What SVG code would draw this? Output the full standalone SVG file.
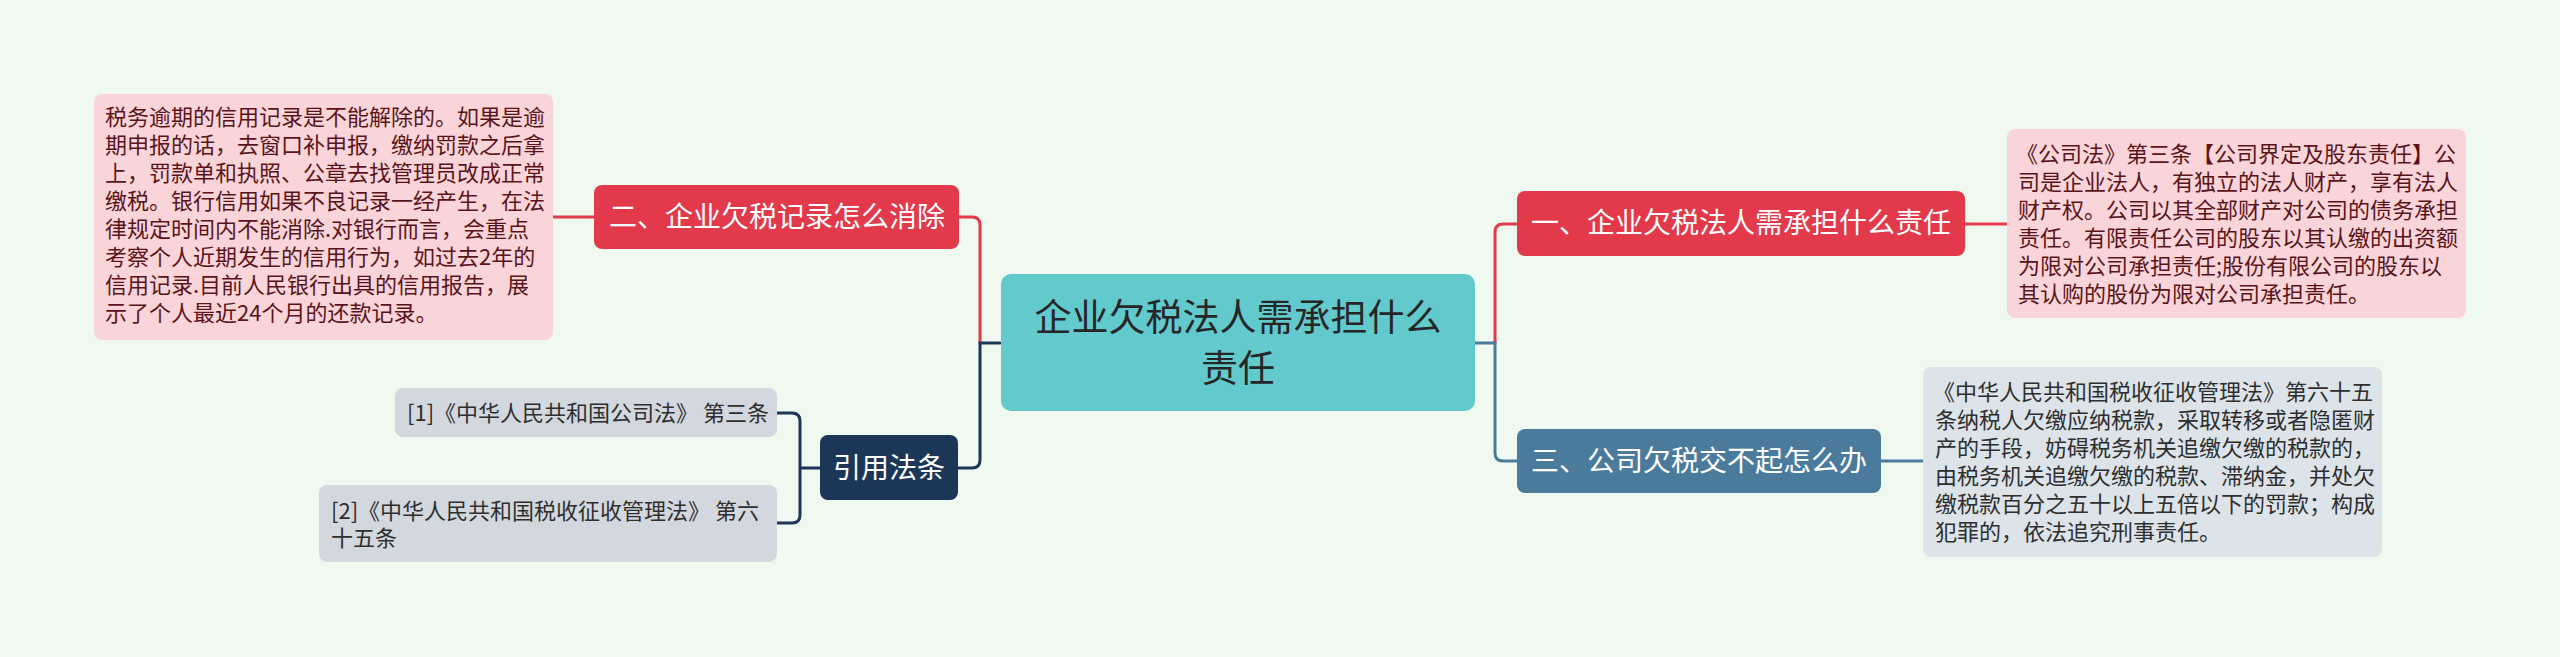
<svg xmlns="http://www.w3.org/2000/svg" width="2560" height="657" viewBox="0 0 2560 657">
<defs>
<style>
text{font-family:"Noto Sans CJK SC","Noto Sans",sans-serif;}
.c{fill:none;stroke-width:3;stroke-linecap:round;}
.red{stroke:#E23A4A;}
.navy{stroke:#1C3658;}
.blue{stroke:#4A7B9D;}
.tw{fill:#ffffff;font-size:28px;text-anchor:middle;}
.tp{fill:#5A1419;font-size:22px;}
.tg{fill:#2E2E2E;font-size:22px;}
</style>
</defs>
<rect x="0" y="0" width="2560" height="657" fill="#F0F9EF"/>
<g id="connectors">
<path class="c red" d="M980,343 V225 Q980,217 972,217 H959"/>
<path class="c navy" d="M1000,343 H980 V460 Q980,468 972,468 H958"/>
<path class="c red" d="M594,217 H553"/>
<path class="c navy" d="M820,468 H800 M800,468 V421 Q800,413 792,413 H777 M800,468 V515 Q800,523 792,523 H777"/>
<path class="c red" d="M1495,343 V232 Q1495,224 1503,224 H1517"/>
<path class="c blue" d="M1475,343 H1495 V453 Q1495,461 1503,461 H1517"/>
<path class="c red" d="M1965,224 H2007"/>
<path class="c blue" d="M1881,461 H1923"/>
</g>
<g id="center">
<rect x="1001" y="274" width="474" height="137" rx="10" fill="#62CACD"/>
<text x="1238" y="331" font-size="37" fill="#262626" text-anchor="middle">企业欠税法人需承担什么</text>
<text x="1238" y="382" font-size="37" fill="#262626" text-anchor="middle">责任</text>
</g>
<g id="n2">
<rect x="594" y="185" width="365" height="64" rx="8" fill="#E23A4A"/>
<text class="tw" x="777" y="227">二、企业欠税记录怎么消除</text>
</g>
<g id="n2-detail">
<rect x="94" y="94" width="459" height="246" rx="8" fill="#F9D5DA"/>
<text class="tp" x="105" y="125">税务逾期的信用记录是不能解除的。如果是逾</text>
<text class="tp" x="105" y="153">期申报的话，去窗口补申报，缴纳罚款之后拿</text>
<text class="tp" x="105" y="181">上，罚款单和执照、公章去找管理员改成正常</text>
<text class="tp" x="105" y="209">缴税。银行信用如果不良记录一经产生，在法</text>
<text class="tp" x="105" y="237">律规定时间内不能消除.对银行而言，会重点</text>
<text class="tp" x="105" y="265">考察个人近期发生的信用行为，如过去2年的</text>
<text class="tp" x="105" y="293">信用记录.目前人民银行出具的信用报告，展</text>
<text class="tp" x="105" y="321">示了个人最近24个月的还款记录。</text>
</g>
<g id="refs">
<rect x="820" y="435" width="138" height="65" rx="8" fill="#1C3658"/>
<text class="tw" x="889" y="478">引用法条</text>
</g>
<g id="ref1">
<rect x="395" y="388" width="382" height="49" rx="8" fill="#D3D8DF"/>
<text class="tg" x="407" y="421">[1]《中华人民共和国公司法》 第三条</text>
</g>
<g id="ref2">
<rect x="319" y="485" width="458" height="77" rx="8" fill="#D3D8DF"/>
<text class="tg" x="331" y="519">[2]《中华人民共和国税收征收管理法》 第六</text>
<text class="tg" x="331" y="546">十五条</text>
</g>
<g id="n1">
<rect x="1517" y="191" width="448" height="65" rx="8" fill="#E23A4A"/>
<text class="tw" x="1741" y="233">一、企业欠税法人需承担什么责任</text>
</g>
<g id="n1-detail">
<rect x="2007" y="129" width="459" height="189" rx="8" fill="#F9D5DA"/>
<text class="tp" x="2016" y="162">《公司法》第三条【公司界定及股东责任】公</text>
<text class="tp" x="2018" y="190">司是企业法人，有独立的法人财产，享有法人</text>
<text class="tp" x="2018" y="218">财产权。公司以其全部财产对公司的债务承担</text>
<text class="tp" x="2018" y="246">责任。有限责任公司的股东以其认缴的出资额</text>
<text class="tp" x="2018" y="274">为限对公司承担责任;股份有限公司的股东以</text>
<text class="tp" x="2018" y="302">其认购的股份为限对公司承担责任。</text>
</g>
<g id="n3">
<rect x="1517" y="429" width="364" height="64" rx="8" fill="#4A7B9D"/>
<text class="tw" x="1699" y="471">三、公司欠税交不起怎么办</text>
</g>
<g id="n3-detail">
<rect x="1923" y="367" width="459" height="190" rx="8" fill="#DCE3E9"/>
<text class="tg" x="1933" y="400">《中华人民共和国税收征收管理法》第六十五</text>
<text class="tg" x="1935" y="428">条纳税人欠缴应纳税款，采取转移或者隐匿财</text>
<text class="tg" x="1935" y="456">产的手段，妨碍税务机关追缴欠缴的税款的，</text>
<text class="tg" x="1935" y="484">由税务机关追缴欠缴的税款、滞纳金，并处欠</text>
<text class="tg" x="1935" y="512">缴税款百分之五十以上五倍以下的罚款；构成</text>
<text class="tg" x="1935" y="540">犯罪的，依法追究刑事责任。</text>
</g>
</svg>
